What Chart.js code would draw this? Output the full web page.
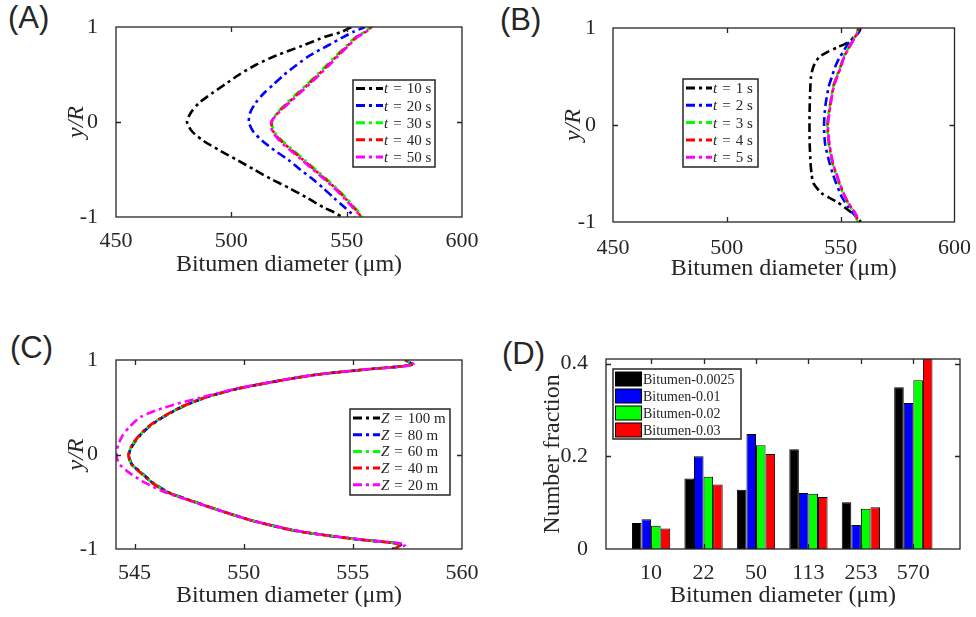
<!DOCTYPE html>
<html lang="en">
<head>
<meta charset="UTF-8">
<title>Bitumen diameter profiles</title>
<script src="https://cdn.jsdelivr.net/npm/chart.js"></script>
<style>
    body { margin: 0; background: #fff; width: 976px; height: 617px; position: relative; overflow: hidden; }
    canvas { position: absolute; }
    .tag { position: absolute; font-family: "Liberation Sans", Arial, sans-serif; font-size: 31px; line-height: 1; color: #262626; }
</style>
</head>
<body>
<div class="tag" style="left:8px;top:2px">(A)</div>
<div class="tag" style="left:500px;top:4px">(B)</div>
<div class="tag" style="left:10px;top:332px">(C)</div>
<div class="tag" style="left:502px;top:338px">(D)</div>
<canvas id="chartA" width="488" height="300" style="left:0;top:0"></canvas>
<canvas id="chartB" width="488" height="300" style="left:488px;top:0"></canvas>
<canvas id="chartC" width="488" height="317" style="left:0;top:300px"></canvas>
<canvas id="chartD" width="488" height="317" style="left:488px;top:300px"></canvas>
<script>
    // (A) diameter profiles over y/R at different times
    const yA = [1, 0.95, 0.9, 0.8, 0.7, 0.6, 0.5, 0.4, 0.3, 0.2, 0.1, 0, -0.1, -0.2, -0.3, -0.4, -0.5, -0.6, -0.7, -0.8, -0.9, -0.95, -1];
    const dA10 = [552, 548, 541, 530.5, 519.5, 510.5, 503.5, 497.5, 491.5, 486, 482.5, 480.8, 483, 488, 495, 502.5, 509.8, 517.2, 525.5, 533, 540, 544.5, 548];
    const dA20 = [558, 553, 549, 541.5, 534, 528.3, 523, 518.5, 514, 510.5, 508.2, 507.6, 509.5, 513.5, 518.8, 524.8, 529.8, 535.2, 540, 544.5, 549.2, 551.5, 553.5];
    const dA30 = [560.5, 557.8, 554.2, 549.8, 545.5, 541.4, 537.2, 532.9, 528.4, 524, 520, 517.6, 518.6, 522.2, 527, 531.8, 536.5, 541.3, 545.8, 549.8, 553.5, 555.3, 556.6];
    const dA40 = [560.8, 558.2, 554.6, 550.3, 546, 542, 537.8, 533.5, 529, 524.5, 520.3, 517.4, 518.2, 521.6, 526.3, 531.2, 535.9, 540.7, 545.3, 549.3, 553, 554.9, 556.3];
    const dA50 = [561, 558.5, 555, 550.7, 546.5, 542.5, 538.3, 534, 529.5, 525, 520.6, 517.3, 517.8, 521, 525.7, 530.6, 535.3, 540.2, 544.8, 548.8, 552.6, 554.5, 556];
    const labelsA = ['t = 10 s', 't = 20 s', 't = 30 s', 't = 40 s', 't = 50 s'];

    // (B) early times
    const yB = [1, 0.95, 0.9, 0.85, 0.8, 0.75, 0.7, 0.6, 0.5, 0.4, 0.2, 0, -0.2, -0.4, -0.5, -0.6, -0.7, -0.75, -0.8, -0.85, -0.9, -0.95, -1];
    const dB1 = [558.8, 557.8, 555.8, 553.2, 548.5, 544, 540.5, 538, 537, 536.7, 536.4, 536.3, 536.4, 536.8, 537.2, 538, 541.5, 545, 548.8, 551.8, 554.6, 557.5, 558.8];
    const dB2 = [558.5, 557.5, 555.5, 553.6, 552.2, 551, 549.6, 547.6, 546.2, 544.8, 543.3, 542.7, 543.2, 545.2, 546.5, 548, 549.7, 550.7, 552, 553.4, 555, 556.8, 557.5];
    const dB3 = [557.8, 557, 556, 554.7, 553.5, 552.3, 551.2, 549.8, 548.2, 546.7, 545.2, 544.1, 544.8, 546.4, 547.8, 549.3, 550.9, 551.9, 553.1, 554.4, 555.9, 556.9, 557.3];
    const dB4 = [557.9, 557.2, 556.2, 554.9, 553.7, 552.5, 551.4, 550, 548.4, 546.9, 545.4, 544.3, 545, 546.6, 548, 549.5, 551.1, 552.1, 553.3, 554.6, 556.1, 557.1, 557.5];
    const dB5 = [558, 557.3, 556.3, 555, 553.8, 552.6, 551.5, 550.1, 548.5, 547, 545.5, 544.4, 545.1, 546.7, 548.1, 549.6, 551.2, 552.2, 553.4, 554.7, 556.2, 557.2, 557.6];
    const labelsB = ['t = 1 s', 't = 2 s', 't = 3 s', 't = 4 s', 't = 5 s'];

    // (C) different heights Z
    const yC = [1, 0.95, 0.9, 0.85, 0.8, 0.7, 0.6, 0.5, 0.4, 0.3, 0.2, 0.1, 0, -0.1, -0.2, -0.3, -0.4, -0.5, -0.6, -0.7, -0.8, -0.85, -0.9, -0.95, -1];
    const dC100 = [557.4, 557.7, 555.6, 553.5, 552.1, 549.8, 548.2, 547.15, 546.35, 545.7, 545.25, 544.92, 544.75, 544.87, 545.35, 545.85, 546.55, 547.75, 549, 550.4, 552.2, 553.6, 555.3, 557.2, 556.8];
    const dC80 = [557.4, 557.7, 555.6, 553.5, 552.1, 549.8, 548.2, 547.13, 546.33, 545.68, 545.23, 544.9, 544.74, 544.86, 545.33, 545.83, 546.53, 547.73, 549, 550.4, 552.2, 553.6, 555.3, 557.2, 556.9];
    const dC60 = [557.4, 557.7, 555.6, 553.5, 552.1, 549.8, 548.2, 547.12, 546.32, 545.67, 545.22, 544.89, 544.73, 544.85, 545.32, 545.82, 546.52, 547.72, 549, 550.4, 552.2, 553.6, 555.3, 557.2, 556.9];
    const dC40 = [557.4, 557.7, 555.6, 553.5, 552.1, 549.8, 548.2, 547.1, 546.3, 545.65, 545.2, 544.88, 544.72, 544.84, 545.3, 545.8, 546.5, 547.7, 549, 550.4, 552.2, 553.6, 555.3, 557.2, 556.9];
    const dC20 = [557.5, 557.8, 555.6, 553.5, 552.1, 549.7, 548, 546.4, 545.3, 544.8, 544.45, 544.25, 544.17, 544.3, 544.8, 545.5, 546.4, 547.7, 549, 550.4, 552.3, 553.6, 555.4, 557.4, 557.1];
    const labelsC = ['Z = 100 m', 'Z = 80 m', 'Z = 60 m', 'Z = 40 m', 'Z = 20 m'];

    // (D) number fraction per size class
    const sizeClasses = ['10', '22', '50', '113', '253', '570'];
    const frac0025 = [0.056, 0.152, 0.128, 0.215, 0.101, 0.349];
    const frac001 = [0.064, 0.200, 0.248, 0.121, 0.052, 0.315];
    const frac002 = [0.050, 0.156, 0.224, 0.119, 0.087, 0.364];
    const frac003 = [0.044, 0.139, 0.205, 0.112, 0.090, 0.420];
    const labelsD = ['Bitumen-0.0025', 'Bitumen-0.01', 'Bitumen-0.02', 'Bitumen-0.03'];

    const colors = ['#000000', '#0000ff', '#00ff00', '#ff0000', '#ff00ff'];
    const ink = '#262626';
    const serif = "'Liberation Serif', 'Times New Roman', serif";
    const tickFont = { family: serif, size: 22 };
    const titleFont = { family: serif, size: 24 };
    const dashDot = [9, 4, 3, 4];

    // axes box with inward tick marks on all four sides
    const boxFrame = {
        id: 'boxFrame',
        afterDraw(chart) {
            const { ctx, chartArea: a, scales } = chart;
            const len = 5;
            ctx.save();
            ctx.strokeStyle = ink;
            ctx.lineWidth = 1.3;
            ctx.setLineDash([]);
            ctx.beginPath();
            scales.x.ticks.forEach(t => {
                const px = Math.round(scales.x.getPixelForValue(t.value)) + 0.5;
                if (px <= a.left + 1 || px >= a.right - 1) return;
                ctx.moveTo(px, a.bottom); ctx.lineTo(px, a.bottom - len);
                ctx.moveTo(px, a.top); ctx.lineTo(px, a.top + len);
            });
            scales.y.ticks.forEach(t => {
                const py = Math.round(scales.y.getPixelForValue(t.value)) + 0.5;
                if (py <= a.top + 1 || py >= a.bottom - 1) return;
                ctx.moveTo(a.left, py); ctx.lineTo(a.left + len, py);
                ctx.moveTo(a.right, py); ctx.lineTo(a.right - len, py);
            });
            ctx.stroke();
            ctx.strokeRect(a.left, a.top, a.right - a.left, a.bottom - a.top);
            ctx.restore();
        }
    };

    // legend box drawn inside the axes
    const boxLegend = {
        id: 'boxLegend',
        afterDraw(chart, args, o) {
            const { ctx } = chart;
            const sets = chart.data.datasets;
            ctx.save();
            ctx.fillStyle = '#fff';
            ctx.fillRect(o.x, o.y, o.w, o.h);
            ctx.strokeStyle = ink;
            ctx.lineWidth = 1.5;
            ctx.strokeRect(o.x, o.y, o.w, o.h);
            ctx.textBaseline = 'middle';
            sets.forEach((ds, i) => {
                const cy = o.y + o.first + i * o.step;
                let tx = o.x + o.sample + 4;
                if (o.kind === 'bar') {
                    ctx.fillStyle = ds.backgroundColor;
                    ctx.fillRect(o.x + 2.5, cy - 7, o.sample, 14);
                    ctx.lineWidth = 1;
                    ctx.strokeStyle = '#000';
                    ctx.strokeRect(o.x + 2.5, cy - 7, o.sample, 14);
                    ctx.fillStyle = ink;
                    ctx.font = `${o.size}px ${serif}`;
                    ctx.fillText(ds.label, tx, cy + 1);
                } else {
                    ctx.strokeStyle = ds.borderColor;
                    ctx.lineWidth = ds.borderWidth + 0.4;
                    ctx.setLineDash(dashDot);
                    ctx.beginPath();
                    ctx.moveTo(o.x + 3, cy);
                    ctx.lineTo(o.x + 3 + o.sample, cy);
                    ctx.stroke();
                    ctx.setLineDash([]);
                    const [sym, val] = ds.label.split(' = ');
                    ctx.fillStyle = ink;
                    ctx.font = `italic ${o.size}px ${serif}`;
                    ctx.fillText(sym, tx, cy + 1);
                    tx += ctx.measureText(sym).width + 5;
                    ctx.font = `${o.size}px ${serif}`;
                    ctx.fillText('=', tx, cy + 1);
                    tx += ctx.measureText('=').width + 5;
                    ctx.fillText(val, tx, cy + 1);
                }
            });
            ctx.restore();
        }
    };

    function profile(label, i, xs, ys) {
        return {
            label: label,
            data: xs.map((x, k) => ({ x: x, y: ys[k] })),
            showLine: true,
            borderColor: colors[i],
            backgroundColor: colors[i],
            borderWidth: 2.6,
            borderDash: dashDot,
            borderDashOffset: i * 2,
            pointRadius: 0,
            tension: 0.25,
            order: 4 - i
        };
    }

    function axis(min, max, ticks, size, tickPad, title, titlePad, italic, fmt) {
        return {
            type: 'linear', min: min, max: max, offset: false,
            afterBuildTicks: s => { s.ticks = ticks.map(v => ({ value: v })); },
            afterFit: s => { if (s.isHorizontal()) s.height = size; else s.width = size; },
            grid: { display: false, offset: false },
            border: { display: false },
            ticks: { padding: tickPad, color: ink, font: tickFont, callback: fmt || (v => String(v)) },
            title: {
                display: true, text: title, color: ink,
                font: Object.assign({}, titleFont, italic ? { style: 'italic' } : {}),
                padding: titlePad
            }
        };
    }

    function profileChart(id, sets, pad, xAxis, yAxis, legend) {
        return new Chart(document.getElementById(id), {
            type: 'scatter',
            data: { datasets: sets },
            plugins: [boxFrame, boxLegend],
            options: {
                responsive: false,
                animation: false,
                layout: { padding: pad },
                scales: { x: xAxis, y: yAxis },
                plugins: { legend: { display: false }, tooltip: { enabled: false }, boxLegend: legend }
            }
        });
    }

    profileChart('chartA',
        [dA10, dA20, dA30, dA40, dA50].map((d, i) => profile(labelsA[i], i, d, yA)),
        { left: 0, top: 27, right: 26, bottom: 0 },
        axis(450, 600, [450, 500, 550, 600], 83, 3, 'Bitumen diameter (μm)', { top: 0, bottom: 21 }),
        axis(-1, 1, [-1, 0, 1], 116, 10, 'y/R', { top: 62, bottom: 0 }, true),
        { kind: 'line', x: 353, y: 80, w: 82, h: 87, first: 8.5, step: 17.1, sample: 27, size: 15 });

    profileChart('chartB',
        [dB1, dB2, dB3, dB4, dB5].map((d, i) => profile(labelsB[i], i, d, yB)),
        { left: 0, top: 28, right: 17, bottom: 0 },
        axis(450, 600, [450, 500, 550, 600], 78, 5, 'Bitumen diameter (μm)', { top: 0, bottom: 17 }),
        axis(-1, 1, [-1, 0, 1], 125, 9, 'y/R', { top: 71, bottom: 0 }, true),
        { kind: 'line', x: 195, y: 79, w: 75, h: 88, first: 9, step: 17.3, sample: 26, size: 15 });

    profileChart('chartC',
        [dC100, dC80, dC60, dC40, dC20].map((d, i) => profile(labelsC[i], i, d, yC)),
        { left: 0, top: 60, right: 26, bottom: 0 },
        axis(544.15, 560, [545, 550, 555, 560], 68, 3, 'Bitumen diameter (μm)', { top: 0, bottom: 7 }),
        axis(-1, 1, [-1, 0, 1], 116, 10, 'y/R', { top: 62, bottom: 0 }, true),
        { kind: 'line', x: 350, y: 109, w: 100, h: 86, first: 9, step: 16.7, sample: 27, size: 15 });

    new Chart(document.getElementById('chartD'), {
        type: 'bar',
        data: {
            datasets: [frac0025, frac001, frac002, frac003].map((vals, i) => ({
                label: labelsD[i],
                data: vals.map((v, k) => ({ x: k + 1, y: v })),
                backgroundColor: colors[i],
                borderColor: '#000000',
                borderWidth: 1,
                categoryPercentage: 0.73,
                barPercentage: 1
            }))
        },
        plugins: [boxFrame, boxLegend],
        options: {
            responsive: false,
            animation: false,
            layout: { padding: { left: 0, top: 59, right: 16, bottom: 0 } },
            scales: {
                x: axis(0.14, 6.89, sizeClasses.map((c, i) => i + 1), 68, 3, 'Bitumen diameter (μm)',
                    { top: 0, bottom: 7 }, false, v => sizeClasses[v - 1] || ''),
                y: axis(0, 0.41, [0, 0.2, 0.4], 118, 10, 'Number fraction', { top: 50, bottom: 0 })
            },
            plugins: {
                legend: { display: false },
                tooltip: { enabled: false },
                boxLegend: { kind: 'bar', x: 125, y: 69, w: 128, h: 70, first: 10, step: 17, sample: 26, size: 14 }
            }
        }
    });
</script>
</body>
</html>
